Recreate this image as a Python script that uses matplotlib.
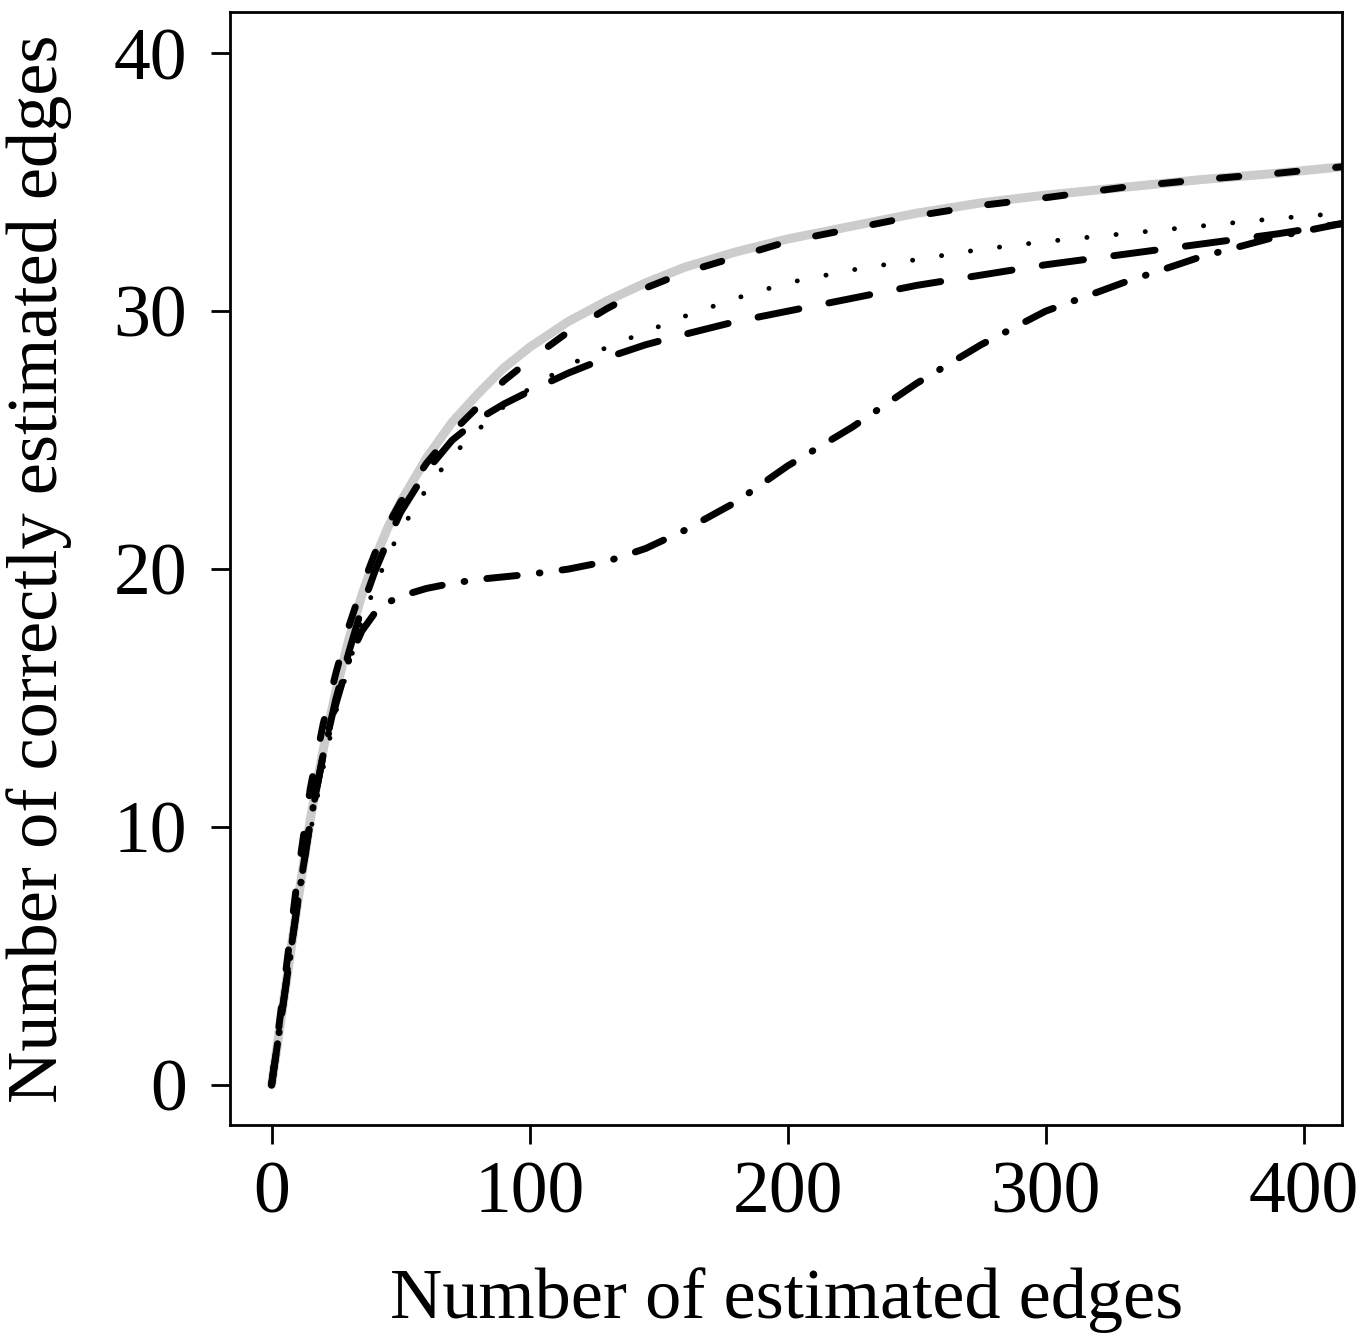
import matplotlib.pyplot as plt
import numpy as np

plt.rcParams["font.family"] = ["Liberation Serif", "DejaVu Serif"]
plt.rcParams["lines.scale_dashes"] = False

# number of estimated edges (shared x grid for all curves)
x_edges = [0, 5, 10, 15, 20, 25, 30, 35, 40, 45, 50, 60, 70, 80, 90, 100, 115, 130,
           145, 160, 180, 200, 225, 250, 275, 300, 330, 360, 390, 415]

# number of correctly estimated edges
y_gray = [0, 3.5, 7, 10.3, 13, 15.3, 17.3, 19, 20.4, 21.6, 22.6, 24.3, 25.7, 26.8, 27.8,
          28.6, 29.6, 30.4, 31.1, 31.7, 32.3, 32.8, 33.3, 33.8, 34.2, 34.5, 34.8, 35.1, 35.35, 35.6]
y_dash = [0, 4, 8, 11.5, 14, 16, 17.8, 19.3, 20.6, 21.7, 22.6, 24.1, 25.3, 26.3, 27.3,
          28.1, 29.2, 30.1, 30.9, 31.5, 32.1, 32.7, 33.2, 33.7, 34.1, 34.4, 34.8, 35.1, 35.35, 35.6]
y_dot = [0, 3.5, 6.8, 9.8, 12.3, 14.5, 16.3, 18, 19.3, 20.5, 21.5, 23.1, 24.4, 25.4, 26.3,
         27.0, 27.9, 28.6, 29.2, 29.8, 30.5, 31.1, 31.6, 32.0, 32.4, 32.7, 33.0, 33.3, 33.6, 33.8]
y_long = [0, 3.5, 7, 10.2, 12.8, 15, 16.8, 18.5, 19.9, 21.1, 22.2, 23.8, 25, 25.8, 26.4,
          26.9, 27.6, 28.2, 28.7, 29.1, 29.6, 30.0, 30.5, 31.0, 31.4, 31.8, 32.2, 32.6, 33.0, 33.4]
y_dd = [0, 3.5, 7, 10.2, 12.8, 14.8, 16.5, 17.6, 18.3, 18.7, 18.95, 19.25, 19.45, 19.6, 19.7,
        19.8, 20.0, 20.3, 20.8, 21.5, 22.6, 24.0, 25.5, 27.2, 28.7, 30.0, 31.1, 32.1, 32.9, 33.4]

fig = plt.figure(figsize=(13.71, 13.36), dpi=100)
ax = fig.add_axes([0.168, 0.158, 0.811, 0.833])

ax.plot(x_edges, y_gray, color="#cccccc", lw=6.5, solid_capstyle="round",
        solid_joinstyle="round", zorder=1)
ax.plot(x_edges, y_dash, color="black", lw=5, dashes=[14, 28], dash_capstyle="round")
ax.plot(x_edges, y_dot, color="black", lw=3.5, dashes=[0.1, 21], dash_capstyle="round")
ax.plot(x_edges, y_long, color="black", lw=5, dashes=[30, 22], dash_capstyle="round")
ax.plot(x_edges, y_dd, color="black", lw=5, dashes=[22, 16, 0.5, 16], dash_capstyle="round")

ax.set_xlim(-16, 415)
ax.set_ylim(-1.55, 41.6)
ax.set_xticks([0, 100, 200, 300, 400])
ax.set_yticks([0, 10, 20, 30, 40])
for s in ax.spines.values():
    s.set_linewidth(2)
ax.tick_params(axis="both", direction="out", length=14, width=2, labelsize=53)
ax.tick_params(axis="x", pad=12)
ax.tick_params(axis="y", pad=17)
ax.set_xlabel("Number of estimated edges", fontsize=52, labelpad=28)
ax.set_ylabel("Number of correctly estimated edges", fontsize=52, labelpad=30)

fig.savefig("out.png", dpi=100)
